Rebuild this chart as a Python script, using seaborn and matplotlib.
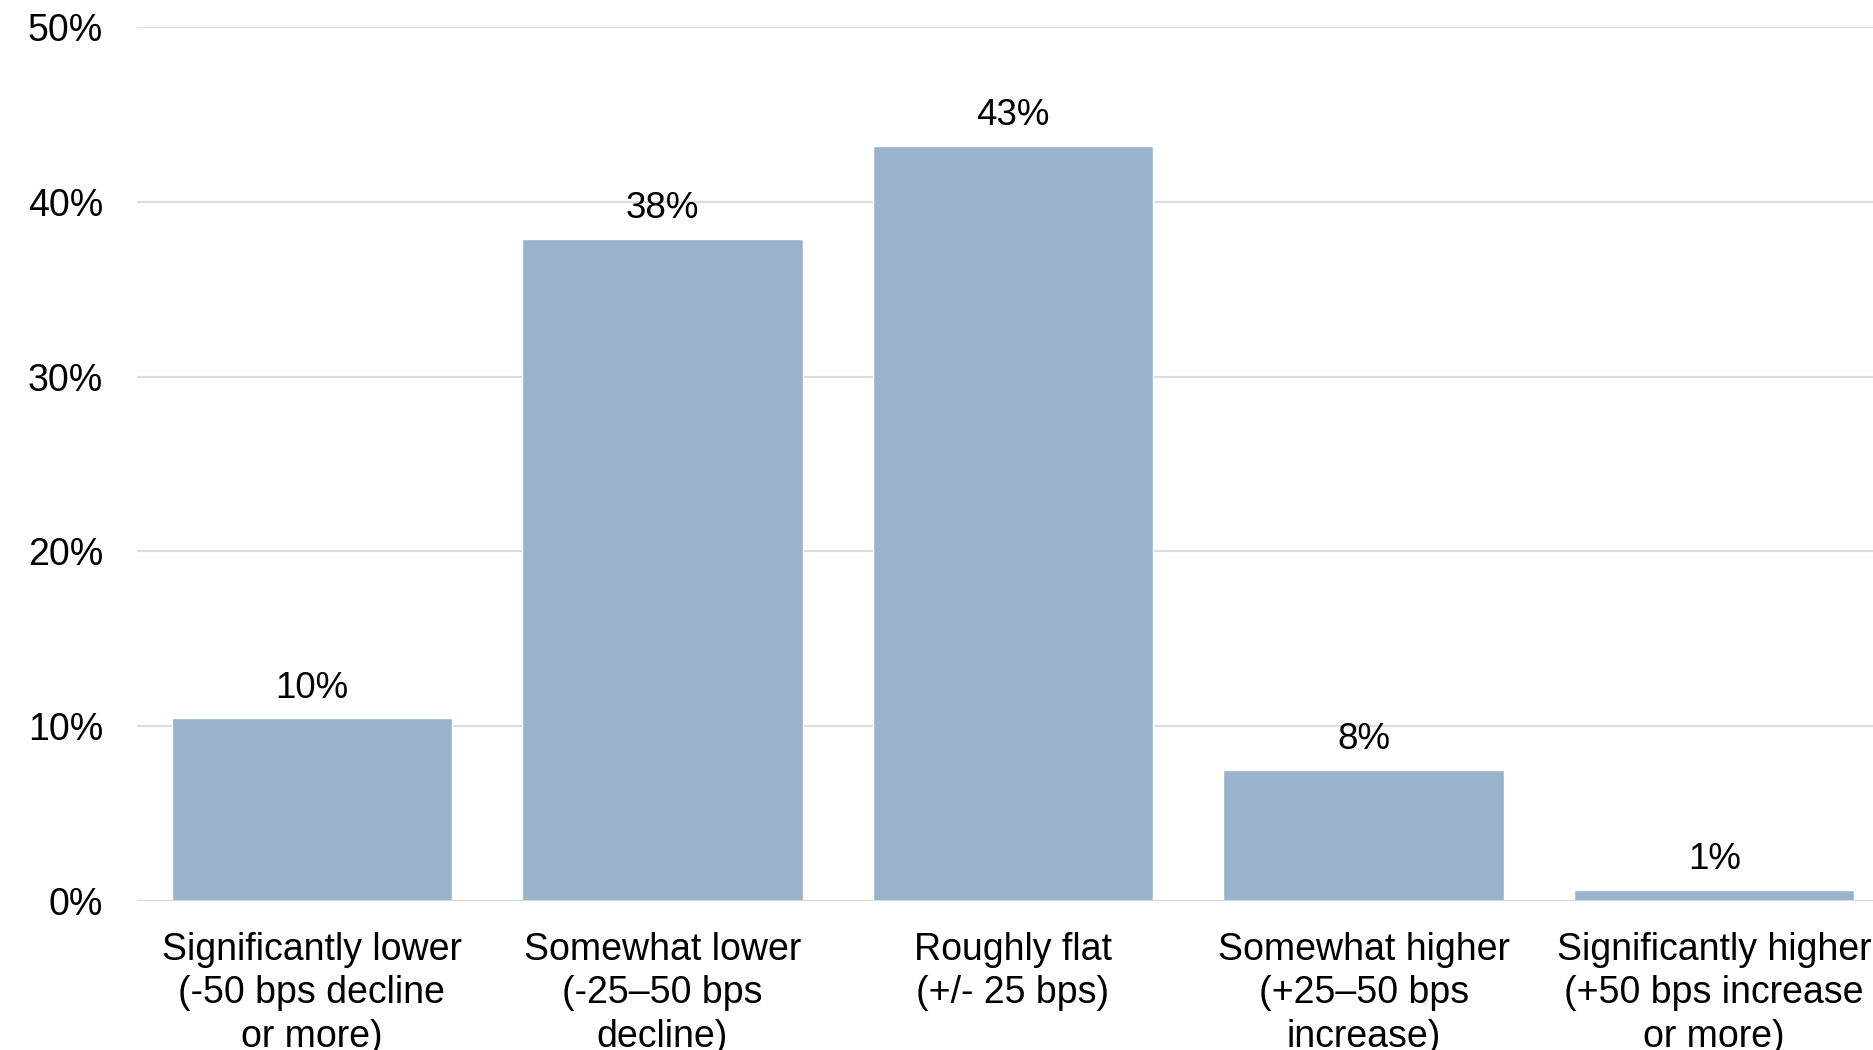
import matplotlib
matplotlib.use("Agg")
import matplotlib.pyplot as plt
import seaborn as sns
import pandas as pd
from matplotlib.ticker import FuncFormatter

# Expected change in rates: share of respondents per bucket (%)
categories = [
    "Significantly lower\n(-50 bps decline\nor more)",
    "Somewhat lower\n(-25–50 bps\ndecline)",
    "Roughly flat\n(+/- 25 bps)",
    "Somewhat higher\n(+25–50 bps\nincrease)",
    "Significantly higher\n(+50 bps increase\nor more)",
]
shares = [10.45, 37.9, 43.2, 7.5, 0.63]
y_ticks = [0, 10, 20, 30, 40, 50]

df = pd.DataFrame({"bucket": categories, "share": shares})

sns.set_theme(style="white")
plt.rcParams["font.family"] = ["Liberation Sans", "DejaVu Sans"]

fig = plt.figure(figsize=(18.73, 10.5), dpi=100)
ax = fig.add_axes([136.5 / 1873, 149 / 1050, (1889.5 - 136.5) / 1873, (901 - 27) / 1050])

sns.barplot(data=df, x="bucket", y="share", color="#9AB3CC", saturation=1,
            width=0.8, ax=ax, zorder=3)

ax.set_ylim(0, 50)
ax.set_xlim(-0.5, len(categories) - 0.5)
ax.set_yticks(y_ticks)
ax.yaxis.set_major_formatter(FuncFormatter(lambda v, _: f"{v:.0f}%"))
ax.grid(axis="y", color="#DCDCDC", linewidth=1.6, zorder=0)
ax.grid(axis="x", visible=False)
for side in ["top", "right", "left", "bottom"]:
    ax.spines[side].set_visible(False)
ax.axhline(0, color="#D9D9D9", linewidth=2.2, zorder=4)

ax.tick_params(axis="y", length=0, pad=24, labelsize=27, labelcolor="black")
ax.tick_params(axis="x", length=0, pad=22, labelsize=27, labelcolor="black")
for lbl in ax.get_xticklabels():
    lbl.set_linespacing(1.27)
ax.set_xlabel("")
ax.set_ylabel("")

ax.bar_label(ax.containers[0], labels=[f"{v:.0f}%" for v in shares],
             padding=9, fontsize=26.5, color="black")

fig.savefig("out.png", dpi=100)
